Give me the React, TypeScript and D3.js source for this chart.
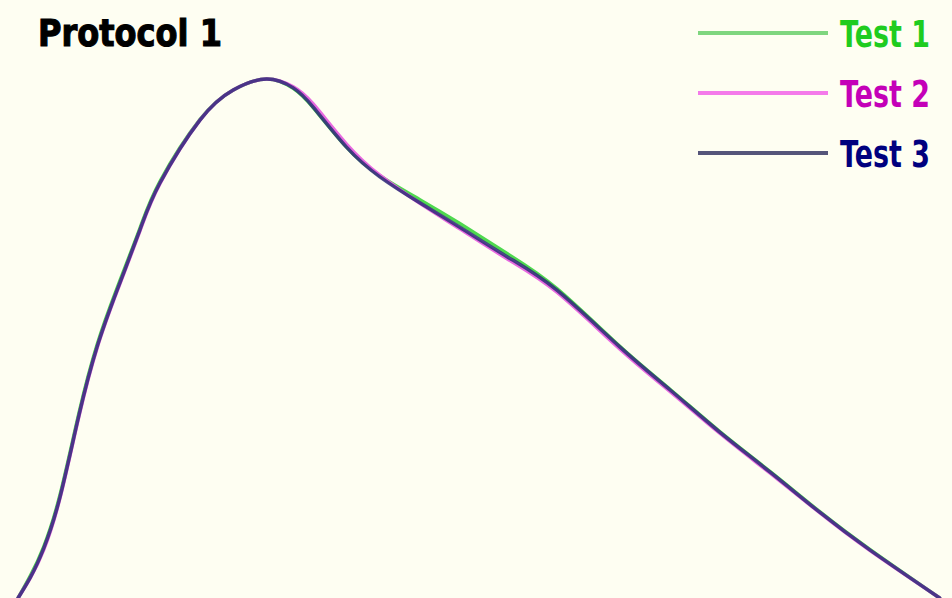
import React from "react";
import * as d3 from "d3";

const W = 952;
const H = 598;

const time = [1.9, 3.2, 4.6, 6.3, 8.3, 10.2, 12.3, 14.7, 16.8, 21.0, 24.5, 28.0, 30.8, 32.9, 36.4, 39.9, 44.1, 48.3, 53.3, 58.5, 65.1, 70.4, 75.6, 80.9, 86.1, 91.4, 98.7];
const test1 = [0, 4.3, 9.9, 19.8, 35.6, 48.7, 59.6, 71.1, 80.1, 92.0, 97.7, 99.8, 98.0, 94.3, 86.7, 81.2, 76.6, 72.0, 66.2, 59.5, 48.4, 40.1, 32.0, 24.3, 16.6, 9.3, 0];
const test2 = [0, 3.9, 9.3, 19.2, 35.0, 48.1, 59.0, 70.6, 79.7, 91.9, 97.7, 99.8, 98.3, 95.0, 87.3, 81.3, 75.9, 71.0, 65.2, 58.8, 47.9, 39.7, 31.7, 24.0, 16.4, 9.1, 0];
const test3 = [0, 4.0, 9.6, 19.4, 35.2, 48.3, 59.2, 70.8, 79.8, 91.9, 97.7, 99.8, 98.1, 94.4, 86.7, 81.0, 76.0, 71.3, 65.6, 59.2, 48.3, 40.0, 31.9, 24.2, 16.5, 9.2, 0];

const seriesNames = ["Test 1", "Test 2", "Test 3"];
const lineColors = ["#4fd84f", "#e86ae0", "#2e2a78"];
const legendLineColors = ["#7fd67f", "#f47aea", "#55557a"];
const textColors = ["#1fcc1f", "#c400b8", "#00007e"];

export default function App() {
  const x = d3.scaleLinear().domain([0, 100]).range([0, W]);
  const y = d3.scaleLinear().domain([0, 100]).range([H, 78]);
  const line = d3
    .line<number>()
    .x((_, i) => x(time[i]))
    .y((d) => y(d))
    .curve(d3.curveNatural);
  const all = [test1, test2, test3];

  return (
    <svg
      width={W}
      height={H}
      style={{ position: "fixed", left: 0, top: 0, background: "#fefef2" }}
    >
      <rect x={0} y={0} width={W} height={H} fill="#fefef2" />
      {all.map((s, i) => (
        <path
          key={i}
          d={line(s) || ""}
          fill="none"
          stroke={lineColors[i]}
          strokeWidth={3.5}
          strokeOpacity={i === 2 ? 0.85 : 1}
          strokeLinecap="round"
        />
      ))}
      <text
        x={38}
        y={46}
        fontFamily="DejaVu Sans"
        fontWeight="bold"
        fontSize={38}
        fill="#000"
        stroke="#000"
        strokeWidth={1.2}
        textLength={184}
        lengthAdjust="spacingAndGlyphs"
      >
        Protocol 1
      </text>
      {seriesNames.map((n, i) => {
        const ly = 33 + i * 60;
        return (
          <g key={n}>
            <line
              x1={698}
              x2={828}
              y1={ly}
              y2={ly}
              stroke={legendLineColors[i]}
              strokeWidth={4}
            />
            <text
              transform={`translate(840, ${ly + 14}) scale(1, 1.4)`}
              x={0}
              y={0}
              fontFamily="DejaVu Sans"
              fontWeight="bold"
              fontSize={27}
              fill={textColors[i]}
              textLength={90}
              lengthAdjust="spacingAndGlyphs"
            >
              {n}
            </text>
          </g>
        );
      })}
    </svg>
  );
}
